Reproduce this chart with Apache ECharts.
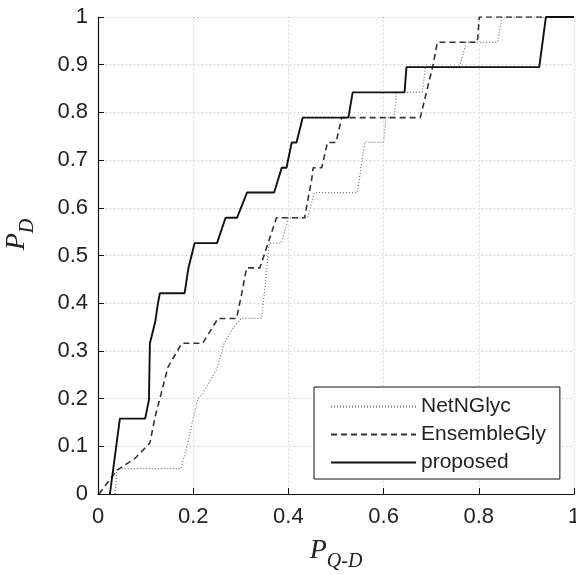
<!DOCTYPE html>
<html>
<head>
<meta charset="utf-8">
<script src="https://cdn.jsdelivr.net/npm/echarts@6/dist/echarts.min.js"></script>
<style>
  html, body { margin: 0; padding: 0; background: #fff; }
  #chart { width: 576px; height: 575px; }
</style>
</head>
<body>
<div id="chart"></div>
<script>
// values (P_Q-D, P_D)
var netX = [0.036, 0.04, 0.174, 0.187, 0.2, 0.21, 0.22, 0.25, 0.265, 0.285, 0.3, 0.344, 0.36, 0.385, 0.4, 0.44, 0.455, 0.545, 0.56, 0.6, 0.605, 0.622, 0.627, 0.681, 0.688, 0.759, 0.774, 0.839, 0.849, 1];
var netY = [0, 0.053, 0.053, 0.1, 0.158, 0.2, 0.21, 0.263, 0.316, 0.35, 0.368, 0.368, 0.526, 0.526, 0.579, 0.579, 0.632, 0.632, 0.737, 0.737, 0.789, 0.789, 0.842, 0.842, 0.895, 0.895, 0.947, 0.947, 1, 1];

var ensX = [0.002, 0.025, 0.04, 0.078, 0.109, 0.12, 0.13, 0.147, 0.176, 0.22, 0.252, 0.291, 0.302, 0.312, 0.34, 0.375, 0.434, 0.449, 0.452, 0.47, 0.482, 0.5, 0.512, 0.677, 0.69, 0.703, 0.713, 0.797, 0.801, 1];
var ensY = [0, 0.03, 0.05, 0.075, 0.107, 0.162, 0.2, 0.266, 0.316, 0.316, 0.368, 0.368, 0.42, 0.474, 0.474, 0.579, 0.579, 0.66, 0.684, 0.684, 0.737, 0.737, 0.789, 0.789, 0.842, 0.895, 0.947, 0.947, 1, 1];

var propX = [0.025, 0.046, 0.099, 0.107, 0.109, 0.12, 0.126, 0.13, 0.182, 0.19, 0.203, 0.25, 0.268, 0.292, 0.313, 0.37, 0.386, 0.396, 0.407, 0.417, 0.43, 0.526, 0.535, 0.644, 0.648, 0.927, 0.941, 1];
var propY = [0, 0.158, 0.158, 0.197, 0.316, 0.36, 0.4, 0.421, 0.421, 0.474, 0.526, 0.526, 0.579, 0.579, 0.632, 0.632, 0.684, 0.684, 0.737, 0.737, 0.789, 0.789, 0.842, 0.842, 0.895, 0.895, 1, 1];

var seriesNames = ['NetNGlyc', 'EnsembleGly', 'proposed'];

function pairs(xs, ys) {
    return xs.map(function (x, i) { return [x, ys[i]]; });
}

var chart = echarts.init(document.getElementById('chart'));

var axisCommon = {
    type: 'value',
    min: 0,
    max: 1,
    axisLine: { show: true, lineStyle: { color: '#111', width: 1.2 } },
    axisTick: { show: true, inside: true, length: 6, lineStyle: { color: '#111' } },
    axisLabel: { color: '#222', fontSize: 22, fontFamily: 'Liberation Sans, Arial' },
    splitLine: { show: true, lineStyle: { color: '#bbb', type: [1, 3], width: 1 } }
};

var nameRich = {
    p: { fontFamily: 'Liberation Serif, Times New Roman', fontStyle: 'italic', fontSize: 28, color: '#222' },
    s: { fontFamily: 'Liberation Serif, Times New Roman', fontStyle: 'italic', fontSize: 20, color: '#222', padding: [22, 0, 0, 0] }
};

chart.setOption({
    animation: false,
    backgroundColor: '#fff',
    grid: { left: 98, right: 2, top: 17, bottom: 81, outerBoundsMode: 'none', containLabel: false },
    xAxis: Object.assign({}, axisCommon, {
        interval: 0.2,
        axisLabel: Object.assign({}, axisCommon.axisLabel, { margin: 12 }),
        name: '{p|P}{s|Q-D}',
        nameLocation: 'middle',
        nameGap: 36,
        nameTextStyle: { rich: nameRich }
    }),
    yAxis: Object.assign({}, axisCommon, {
        interval: 0.1,
        axisLabel: Object.assign({}, axisCommon.axisLabel, { margin: 10 }),
        name: '{p|P}{s|D}',
        nameLocation: 'middle',
        nameGap: 60,
        nameRotate: 90,
        nameTextStyle: { padding: [0, 0, 0, 42], rich: nameRich }
    }),
    legend: {
        data: seriesNames,
        orient: 'vertical',
        left: 314,
        top: 387,
        itemWidth: 85,
        itemHeight: 14,
        itemGap: 7,
        padding: [9, 14, 6, 16],
        backgroundColor: '#fff',
        borderColor: '#111',
        borderWidth: 1,
        borderRadius: 0,
        itemStyle: { color: 'rgba(0,0,0,0)', borderWidth: 0, opacity: 0 },
        textStyle: { color: '#222', fontSize: 21, fontFamily: 'Liberation Sans, Arial' }
    },
    series: [
        {
            name: seriesNames[0],
            type: 'line',
            symbol: 'none',
            data: pairs(netX, netY),
            lineStyle: { color: '#777', width: 1.2, type: [1, 2] },
            itemStyle: { color: '#777' },
            z: 2
        },
        {
            name: seriesNames[1],
            type: 'line',
            symbol: 'none',
            data: pairs(ensX, ensY),
            lineStyle: { color: '#333', width: 1.6, type: [6, 4] },
            itemStyle: { color: '#333' },
            z: 3
        },
        {
            name: seriesNames[2],
            type: 'line',
            symbol: 'none',
            data: pairs(propX, propY),
            lineStyle: { color: '#111', width: 1.9 },
            itemStyle: { color: '#111' },
            z: 4
        }
    ]
});
</script>
</body>
</html>
